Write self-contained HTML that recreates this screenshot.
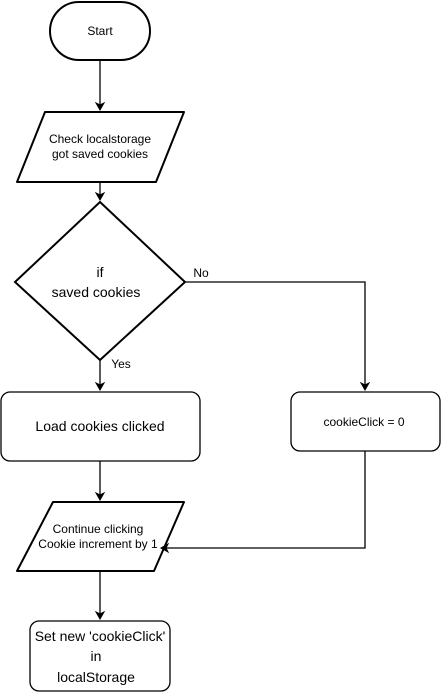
<!DOCTYPE html>
<html><head><meta charset="utf-8"><style>
html,body{margin:0;padding:0;background:#fff;width:441px;height:692px;overflow:hidden}
svg{display:block}
text{font-family:"Liberation Sans",sans-serif;fill:#000;text-anchor:middle}
</style></head><body>
<svg width="441" height="692" viewBox="0 0 441 692" xmlns="http://www.w3.org/2000/svg">
<defs><marker id="a" markerWidth="10" markerHeight="10" refX="8" refY="5" orient="auto" markerUnits="userSpaceOnUse"><path d="M1,1 L8,5 L1,9 L3,5 Z" fill="#000" stroke="#000"/></marker></defs>
<g fill="none" stroke="#000" stroke-width="1.3">
<rect x="50" y="2" width="100" height="58" rx="29" stroke-width="2"/>
<path d="M45,112 L184,112 L156,182 L17,182 Z" stroke-width="2" stroke-linejoin="round"/>
<path d="M100,202 L185,282 L100,360 L15,282 Z" stroke-width="2"/>
<rect x="1" y="392" width="199" height="69" rx="9"/>
<rect x="291" y="392" width="149" height="59" rx="9"/>
<path d="M53,502 L184,502 L154,571 L17,571 Z" stroke-width="2" stroke-linejoin="round"/>
<rect x="30" y="621" width="140" height="70" rx="9"/>
<path d="M100,60 L100,110" marker-end="url(#a)"/>
<path d="M100,182 L100,200" marker-end="url(#a)"/>
<path d="M100,360 L100,390" marker-end="url(#a)"/>
<path d="M185,282 L365,282 L365,390" marker-end="url(#a)"/>
<path d="M100,461 L100,500" marker-end="url(#a)"/>
<path d="M365,451 L365,548 L161,548" marker-end="url(#a)"/>
<path d="M100,571 L100,619" marker-end="url(#a)"/>
</g>
<text x="100" y="35" font-size="12">Start</text>
<text x="100" y="143" font-size="12">Check localstorage</text>
<text x="100" y="158" font-size="12">got saved cookies</text>
<text x="100" y="277" font-size="14">if</text>
<text x="96" y="297" font-size="14">saved cookies</text>
<text x="201" y="277" font-size="12">No</text>
<text x="121" y="368" font-size="12">Yes</text>
<text x="100" y="431" font-size="14">Load cookies clicked</text>
<text x="364" y="426" font-size="12">cookieClick = 0</text>
<text x="98" y="533" font-size="12">Continue clicking</text>
<text x="98" y="548" font-size="12">Cookie increment by 1</text>
<text x="100" y="641" font-size="14">Set new 'cookieClick'</text>
<text x="96" y="661" font-size="14">in</text>
<text x="96" y="682" font-size="14">localStorage</text>
</svg>
</body></html>
